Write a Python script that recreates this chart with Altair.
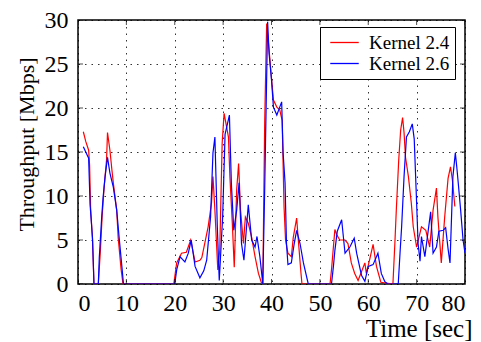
import altair as alt
import pandas as pd

# ---- data ----
t_k24 = [1.1, 1.6, 2.2, 2.4, 2.6, 3.0, 3.3, 4.2, 4.6, 5.0, 5.4, 5.9, 6.1, 6.6, 7.0, 7.3, 8.0, 8.3, 8.9, 9.3,
         19.8, 20.4, 21.4, 22.4, 23.3, 24.2, 25.2, 25.6, 26.9, 27.6, 27.9, 28.3, 28.9, 29.3, 29.8, 30.2, 30.7,
         31.1, 31.4, 31.9, 32.3, 32.8, 33.2, 33.6, 34.2, 34.6, 35.2, 35.9, 36.6, 37.3, 38.0, 38.2, 38.6, 39.0,
         39.5, 39.9, 40.4, 41.1, 41.7, 42.2, 42.6, 42.9, 43.4, 44.1, 44.5, 45.2, 45.5, 46.1, 46.3,
         52.1, 52.4, 53.1, 53.5, 54.1, 55.2, 55.8, 56.5, 57.2, 57.9, 58.6, 59.3, 59.6, 60.3, 61.0, 61.7, 62.6,
         65.1, 65.5, 65.8, 66.3, 66.7, 67.1, 67.4, 67.7, 68.3, 68.9, 69.3, 70.0, 71.0, 71.9, 72.7, 73.4, 74.1,
         74.4, 75.1, 75.8, 76.5, 77.0, 77.4, 77.9]
v_k24 = [17.3, 16.2, 15.2, 13.5, 8.7, 5.0, 0.0, 0.0, 3.5, 7.8, 11.0, 14.1, 17.2, 15.2, 13.0, 11.5, 8.4, 5.3, 1.7, 0.0,
         0.0, 2.4, 3.5, 3.6, 5.0, 2.5, 2.7, 3.0, 6.5, 9.2, 12.2, 8.4, 1.6, 3.8, 16.0, 19.4, 17.9,
         16.7, 12.2, 6.9, 1.9, 10.7, 13.7, 8.4, 4.6, 7.6, 6.9, 5.3, 3.1, 1.2, 0.0, 0.0, 18.6, 29.6,
         26.6, 24.0, 20.9, 20.1, 19.8, 18.6, 8.7, 5.0, 3.5, 3.1, 5.3, 7.5, 5.3, 1.2, 0.0,
         0.0, 1.6, 6.2, 5.6, 5.0, 5.0, 4.6, 2.4, 1.2, 0.4, 1.4, 2.4, 1.2, 2.8, 4.5, 2.0, 0.2,
         0.0, 4.6, 8.4, 14.1, 17.5, 18.9, 17.2, 14.4, 12.2, 9.2, 6.5, 4.2, 6.5, 6.1, 4.2, 8.4, 10.9,
         7.6, 2.4, 7.6, 12.0, 13.3, 11.8, 8.8]

t_k26 = [1.1, 1.6, 2.2, 2.5, 3.0, 3.3, 4.2, 4.4, 4.9, 5.2, 5.6, 6.1, 6.6, 7.3, 7.6, 8.0, 8.5, 9.0, 9.4,
         20.0, 20.4, 21.1, 21.6, 22.1, 22.8, 23.4, 24.2, 25.2, 26.0, 26.6, 27.4, 27.9, 28.3, 28.8, 29.2, 29.9,
         30.4, 31.3, 31.7, 32.2, 32.8, 33.3, 33.8, 34.3, 35.2, 35.9, 36.6, 37.0, 37.6, 38.2, 38.6, 39.2, 39.5,
         40.0, 40.4, 41.1, 41.7, 42.1, 42.4, 42.8, 43.1, 43.4, 44.1, 44.7, 45.2, 45.9, 46.6, 47.6,
         52.4, 52.8, 53.1, 53.6, 54.5, 55.2, 56.2, 57.1, 57.6, 58.6, 59.3, 60.0, 61.0, 62.0, 62.7, 63.4, 64.0,
         66.2, 66.6, 66.9, 67.4, 67.9, 68.5, 69.1, 69.5, 69.9, 70.3, 70.7, 71.0, 71.7, 72.4, 72.9, 73.4, 74.1,
         74.6, 75.5, 76.0, 76.5, 76.9, 77.5, 78.0, 78.3, 78.6, 79.1, 79.6, 80.0]
v_k26 = [15.6, 15.0, 14.3, 9.0, 5.2, 0.0, 0.0, 3.0, 7.6, 9.9, 12.2, 14.4, 12.6, 11.0, 9.9, 8.4, 5.3, 2.4, 0.0,
         0.0, 1.6, 3.1, 2.8, 2.5, 3.5, 5.0, 2.0, 0.7, 1.5, 2.7, 7.6, 14.9, 16.7, 6.5, 0.4, 7.6,
         17.0, 19.2, 11.5, 6.1, 8.4, 11.5, 4.6, 2.7, 9.0, 5.0, 4.2, 5.4, 3.1, 0.0, 11.0, 29.8, 26.2,
         23.2, 20.1, 19.2, 20.1, 20.7, 14.9, 11.5, 4.6, 2.2, 2.4, 4.6, 6.1, 4.6, 2.4, 0.0,
         0.0, 2.0, 3.8, 6.0, 7.3, 3.5, 4.2, 5.2, 3.5, 1.0, 0.3, 2.0, 2.2, 3.5, 1.2, 0.3, 0.0,
         0.0, 3.8, 6.5, 12.2, 16.7, 17.3, 18.2, 16.5, 10.7, 4.6, 2.6, 5.4, 3.1, 6.1, 8.2, 3.5, 4.2,
         6.0, 6.1, 6.4, 4.0, 2.4, 12.2, 14.9, 13.3, 11.5, 8.4, 5.0, 3.5]

series_names = ["Kernel 2.4", "Kernel 2.6"]
series_colors = ["#ff0000", "#0000ff"]
x_ticks = [0, 10, 20, 30, 40, 50, 60, 70, 80]
y_ticks = [0, 5, 10, 15, 20, 25, 30]

df = pd.concat([
    pd.DataFrame({"series": series_names[0], "t": t_k24, "v": v_k24}),
    pd.DataFrame({"series": series_names[1], "t": t_k26, "v": v_k26}),
], ignore_index=True)
df["order"] = range(len(df))
xt = pd.DataFrame({"tick": x_ticks})
yt = pd.DataFrame({"tick": y_ticks})

FONT = "'Times New Roman', 'Liberation Serif', 'DejaVu Serif', serif"

x_scale = alt.Scale(domain=[0, 80], nice=False)
y_scale = alt.Scale(domain=[0, 30], nice=False)

x_axis = alt.Axis(values=x_ticks, grid=True, ticks=False, domain=False, title="Time [sec]",
                  labelFont=FONT, labelFontSize=24, labelColor="black", labelPadding=7,
                  titleFont=FONT, titleFontSize=25, titleFontWeight="normal", titleColor="black",
                  titleAlign="right", titleX=394, titleY=52, titleBaseline="alphabetic",
                  gridColor="black", gridDash=[1.5, 5], gridWidth=1, gridOpacity=0.8)
y_axis = alt.Axis(values=y_ticks, grid=True, ticks=False, domain=False, title="Throughput [Mbps]",
                  labelFont=FONT, labelFontSize=24, labelColor="black", labelPadding=10,
                  titleFont=FONT, titleFontSize=22, titleFontWeight="normal", titleColor="black",
                  titleAngle=-90, titleX=-52, titleY=124, titleAlign="center", titleBaseline="middle",
                  gridColor="black", gridDash=[1.5, 5], gridWidth=1, gridOpacity=0.8)

lines = alt.Chart(df).mark_line(strokeWidth=1.2, clip=True).encode(
    x=alt.X("t:Q", scale=x_scale, axis=x_axis),
    y=alt.Y("v:Q", scale=y_scale, axis=y_axis),
    color=alt.Color("series:N", scale=alt.Scale(domain=series_names, range=series_colors),
                    legend=alt.Legend(title=None, orient="none", legendX=242, legendY=7,
                                      strokeColor="black", fillColor="white", padding=5,
                                      symbolType="M-1.5,0H1.5", symbolSize=361, symbolStrokeWidth=1.3,
                                      symbolOffset=9,
                                      labelFont=FONT, labelFontSize=19, labelColor="black",
                                      labelOffset=14, rowPadding=0)),
    order="order:Q",
)

tick_style = dict(color="black", size=10, thickness=1, clip=True)
bottom = alt.Chart(xt).mark_tick(orient="vertical", **tick_style).encode(
    x=alt.X("tick:Q", scale=x_scale), y=alt.datum(0))
top = alt.Chart(xt).mark_tick(orient="vertical", **tick_style).encode(
    x=alt.X("tick:Q", scale=x_scale), y=alt.datum(30))
left = alt.Chart(yt).mark_tick(orient="horizontal", **tick_style).encode(
    y=alt.Y("tick:Q", scale=y_scale), x=alt.datum(0))
right = alt.Chart(yt).mark_tick(orient="horizontal", **tick_style).encode(
    y=alt.Y("tick:Q", scale=y_scale), x=alt.datum(80))

chart = alt.layer(lines, bottom, top, left, right).properties(
    width=387, height=264,
    autosize=alt.AutoSizeParams(type="none"),
    padding={"left": 78, "top": 20, "right": 16, "bottom": 58},
    background="white",
).configure_view(stroke="black", strokeWidth=1.5)

chart.save("out.html", embed_options={"renderer": "svg", "actions": False})
